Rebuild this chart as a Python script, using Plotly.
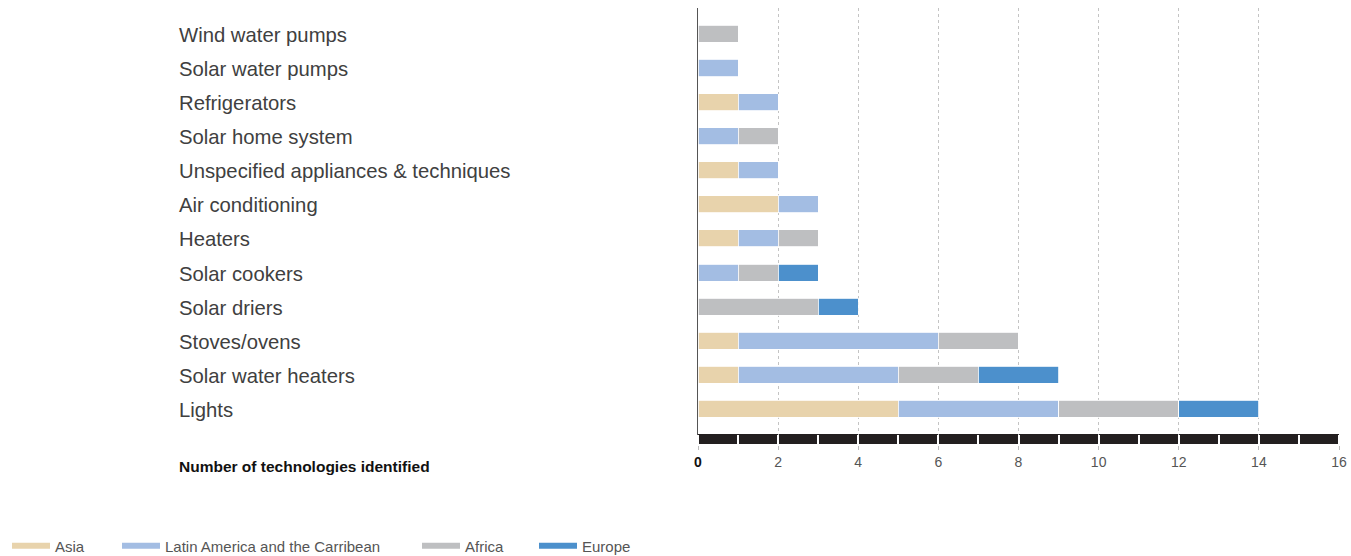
import plotly.graph_objects as go

categories = ["Lights", "Solar water heaters", "Stoves/ovens", "Solar driers", "Solar cookers",
              "Heaters", "Air conditioning", "Unspecified appliances & techniques",
              "Solar home system", "Refrigerators", "Solar water pumps", "Wind water pumps"]
asia = [5, 1, 1, 0, 0, 1, 2, 1, 0, 1, 0, 0]
latin = [4, 4, 5, 0, 1, 1, 1, 1, 1, 1, 1, 0]
africa = [3, 2, 2, 3, 1, 1, 0, 0, 1, 0, 0, 1]
europe = [2, 2, 0, 1, 1, 0, 0, 0, 0, 0, 0, 0]
series_names = ["Asia", "Latin America and the Carribean", "Africa", "Europe"]
colors = ["#e8d3ac", "#a3bde3", "#bebfc1", "#4c90cc"]
tick_vals = [0, 2, 4, 6, 8, 10, 12, 14, 16]
tick_text = ["<b><span style='color:#111'>0</span></b>", "2", "4", "6", "8", "10", "12", "14", "16"]

W, H = 1351, 556
ml, mr, mt, mb = 698, 12, 8, 111
pw = W - ml - mr
ph = H - mt - mb
legend_names = ["legend", "legend2", "legend3", "legend4"]
legend_x = [7, 117, 417, 534]

fig = go.Figure()
ypos = list(range(len(categories)))
for name, vals, col in zip(series_names, [asia, latin, africa, europe], colors):
    fig.add_trace(go.Bar(x=vals, y=ypos, orientation="h", name=name, width=0.5,
                         marker=dict(color=col, line=dict(color="white", width=0.8)),
                         showlegend=False))
for name, col, lg in zip(series_names, colors, legend_names):
    fig.add_trace(go.Scatter(x=[None], y=[None], mode="lines", name=name, legend=lg,
                             line=dict(color=col, width=6)))

fig.add_shape(type="rect", xref="x", yref="paper", x0=0, x1=16, y0=1/ph, y1=11/ph,
              fillcolor="#231f20", line=dict(width=0), layer="below")

lx = (177 - ml) / pw
for i, c in enumerate(categories):
    fig.add_annotation(text=c, xref="paper", yref="y", x=lx, y=i,
                       xanchor="left", yanchor="middle", showarrow=False, yshift=-1,
                       font=dict(family="Liberation Sans", size=20.3, color="#404040"))
fig.add_annotation(text="<b>Number of technologies identified</b>", xref="paper", yref="paper",
                   x=lx, y=-21/ph, xanchor="left", yanchor="middle",
                   showarrow=False, font=dict(family="Liberation Sans", size=15.5, color="#111"))

leg_common = dict(orientation="h", xref="container", yref="container",
                  xanchor="left", yanchor="middle", y=(H - 546) / H,
                  font=dict(size=15, color="#555"), itemwidth=38, bgcolor="rgba(0,0,0,0)")
legends = {}
for lg, x in zip(legend_names, legend_x):
    legends[lg] = dict(leg_common, x=x / W)

fig.update_layout(
    width=W, height=H, barmode="stack", plot_bgcolor="white", paper_bgcolor="white",
    margin=dict(l=ml, r=mr, t=mt, b=mb, autoexpand=False),
    font=dict(family="Liberation Sans", color="#555"),
    xaxis=dict(range=[0, 16], tickvals=tick_vals, ticktext=tick_text, showgrid=True,
               gridcolor="#c4c4c4", griddash="3px,3px", gridwidth=1, zeroline=False,
               ticks="outside", ticklen=4, tickcolor="#bbb", automargin=False,
               tickfont=dict(size=14, color="#555"),
               minor=dict(dtick=1, ticks="inside", ticklen=10, tickcolor="white", tickwidth=1.5, showgrid=False),
               showline=False, fixedrange=True),
    yaxis=dict(range=[-1.06, 11.76], showticklabels=False, showgrid=False, zeroline=False,
               showline=True, linecolor="#555", linewidth=1, ticks="", fixedrange=True,
               automargin=False),
    **legends,
)
fig.write_html("out.html", config={"displayModeBar": False},
               post_script="document.body.style.margin='0';document.body.style.overflow='hidden';")
